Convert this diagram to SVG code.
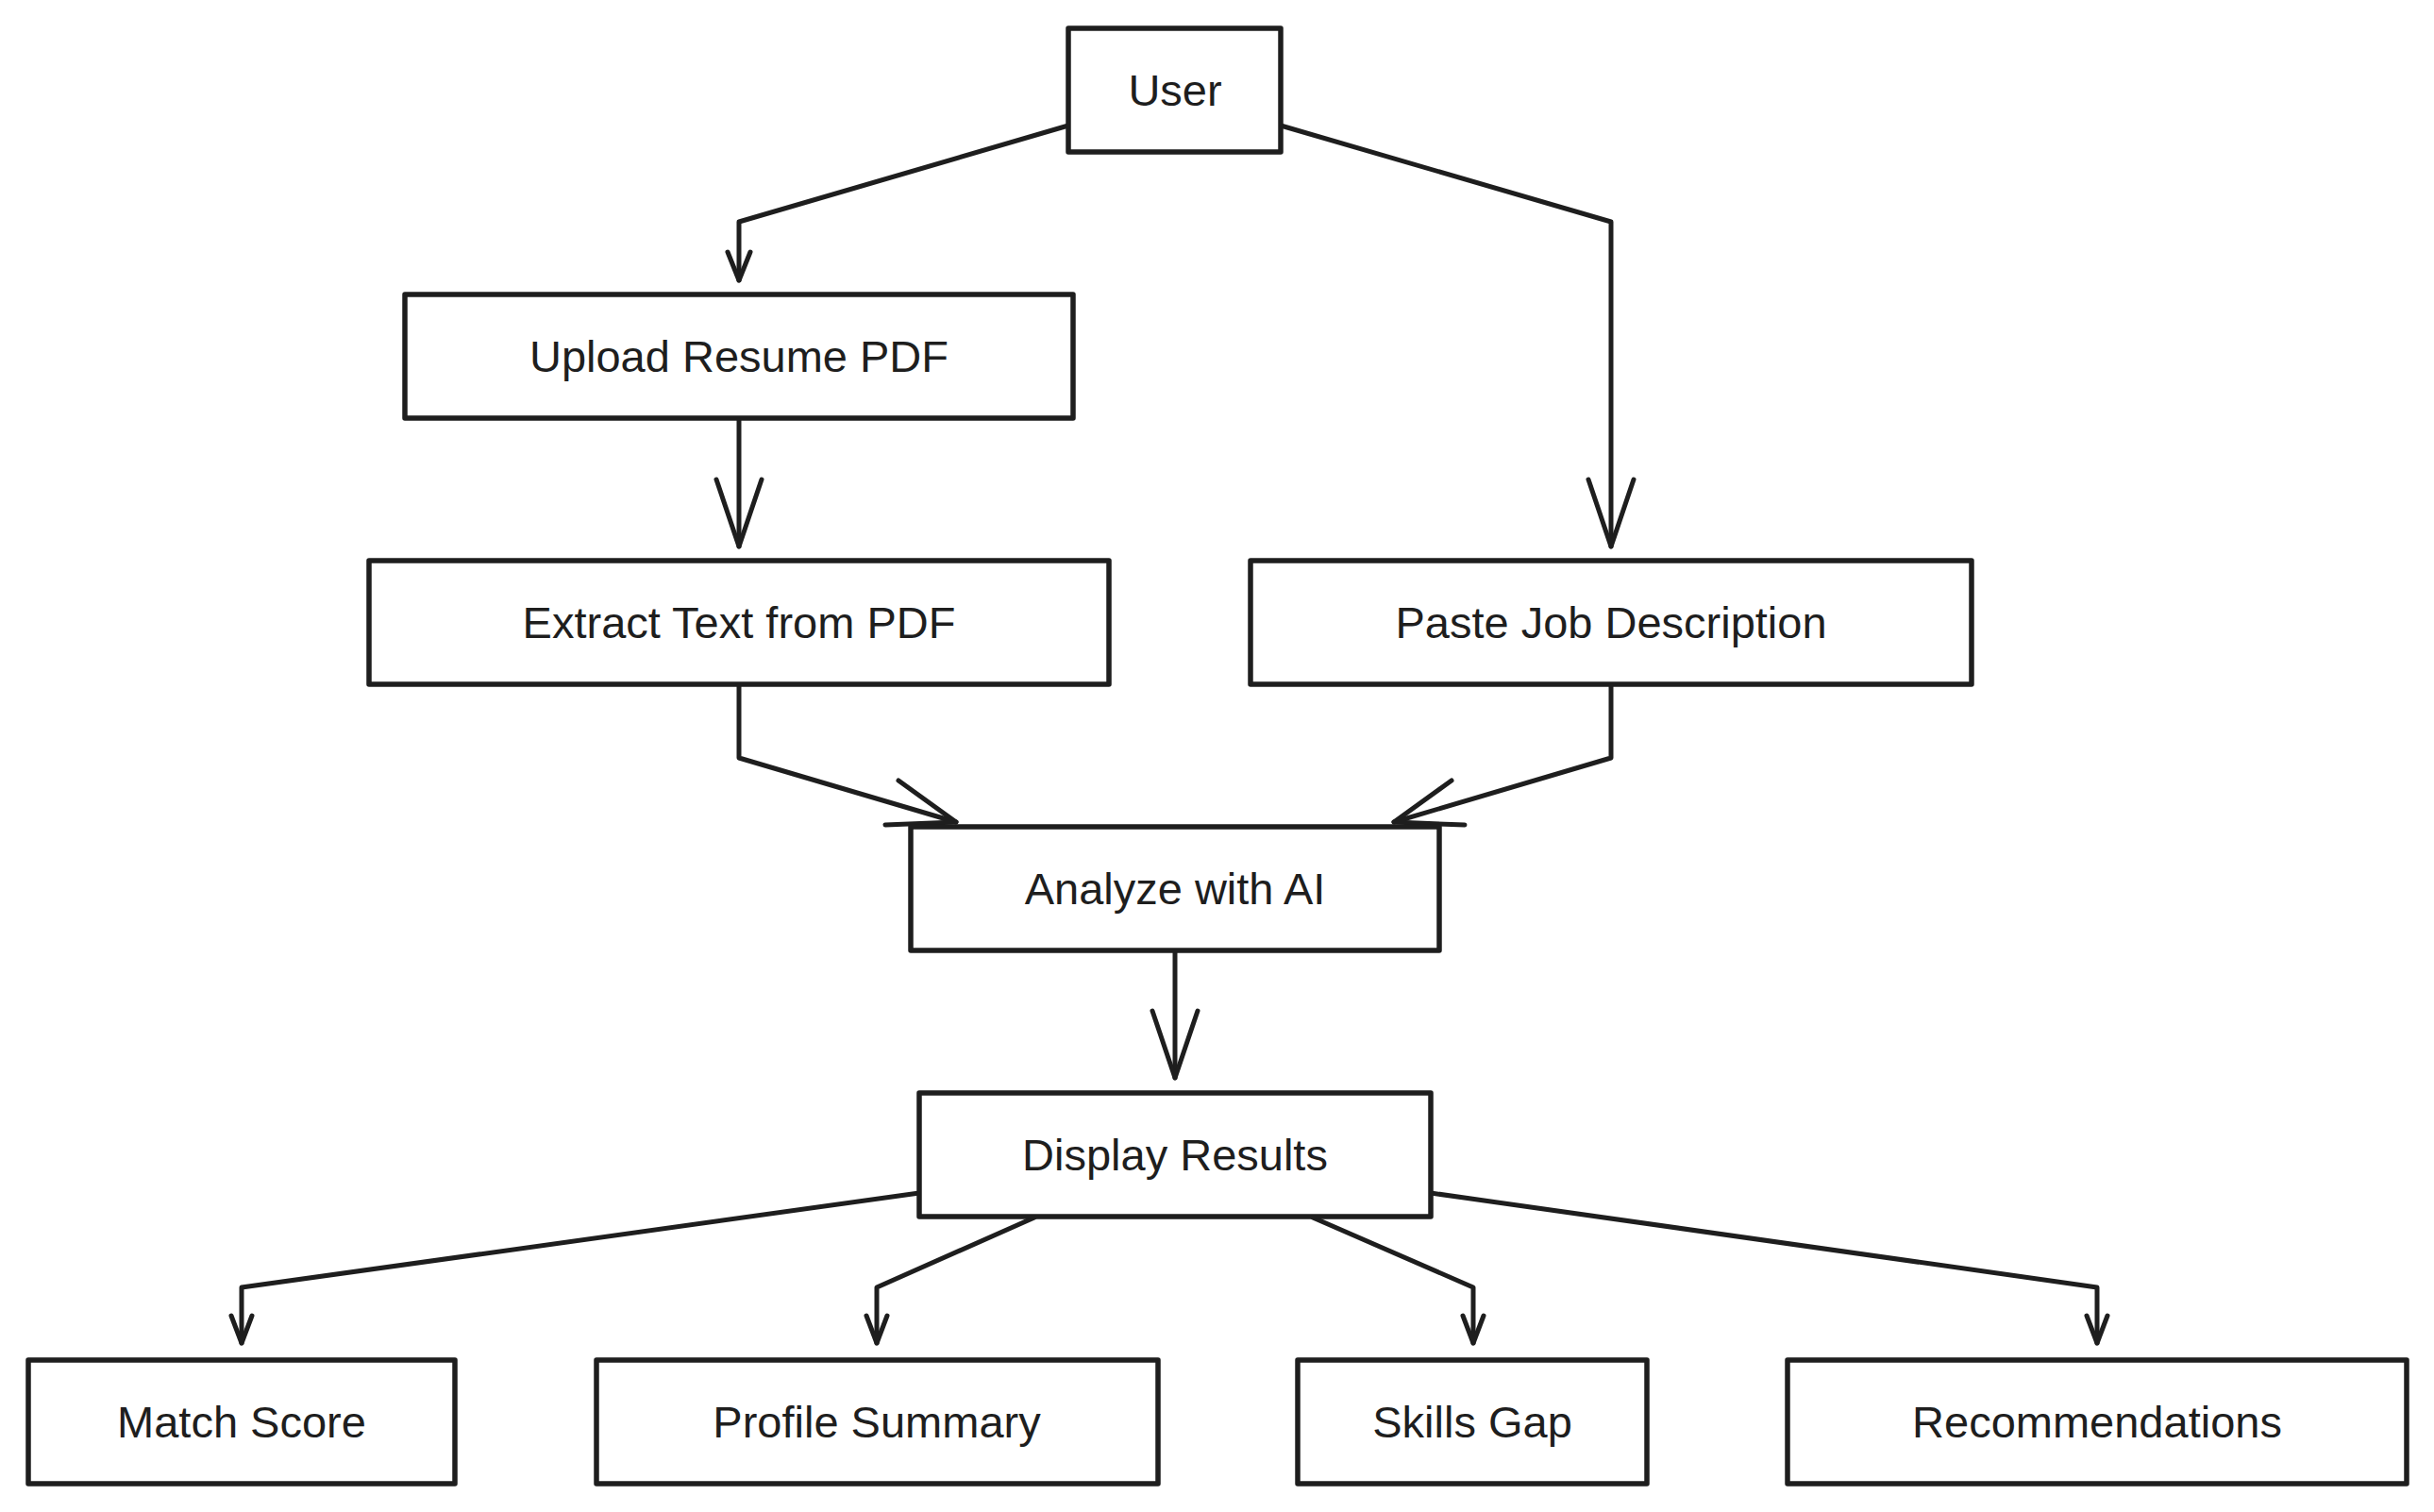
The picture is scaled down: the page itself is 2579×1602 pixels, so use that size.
<svg xmlns="http://www.w3.org/2000/svg" width="2579" height="1602" viewBox="0 0 2579 1602">
<style>
.box{fill:#ffffff;stroke:#1e1e1e;stroke-width:5.5;stroke-linejoin:round}
.lbl{font-family:"Liberation Sans",Arial,sans-serif;font-size:47px;fill:#1e1e1e;text-anchor:middle}
.edge{fill:none;stroke:#1e1e1e;stroke-width:5;stroke-linecap:round;stroke-linejoin:round}
</style>
<rect x="0" y="0" width="2579" height="1602" fill="#ffffff"/>
<g id="connectors">
<path class="edge" d="M1132,133 L783,235 L783,297"/>
<path class="edge" d="M771,267 L783,297 L795,267"/>
<path class="edge" d="M1357,133 L1707,235 L1707,579"/>
<path class="edge" d="M1683,508 L1707,579 L1731,508"/>
<path class="edge" d="M783,443 L783,579"/>
<path class="edge" d="M759,508 L783,579 L807,508"/>
<path class="edge" d="M783,725 L783,803 L1013,871"/>
<path class="edge" d="M952,827 L1013,871 L938,874"/>
<path class="edge" d="M1707,725 L1707,803 L1477,871"/>
<path class="edge" d="M1538,827 L1477,871 L1552,874"/>
<path class="edge" d="M1245,1007 L1245,1142"/>
<path class="edge" d="M1221,1071 L1245,1142 L1269,1071"/>
<path class="edge" d="M974,1264 L256,1364 L256,1423"/>
<path class="edge" d="M245,1394 L256,1423 L267,1394"/>
<path class="edge" d="M1096,1290 L929,1364 L929,1423"/>
<path class="edge" d="M918,1394 L929,1423 L940,1394"/>
<path class="edge" d="M1391,1290 L1561,1364 L1561,1423"/>
<path class="edge" d="M1550,1394 L1561,1423 L1572,1394"/>
<path class="edge" d="M1516,1264 L2222,1364 L2222,1423"/>
<path class="edge" d="M2211,1394 L2222,1423 L2233,1394"/>
</g>
<g id="user"><rect class="box" x="1132" y="30" width="225" height="131"/><text class="lbl" x="1245" y="112">User</text></g>
<g id="upload"><rect class="box" x="429" y="312" width="708" height="131"/><text class="lbl" x="783" y="394">Upload Resume PDF</text></g>
<g id="extract"><rect class="box" x="391" y="594" width="784" height="131"/><text class="lbl" x="783" y="676">Extract Text from PDF</text></g>
<g id="paste"><rect class="box" x="1325" y="594" width="764" height="131"/><text class="lbl" x="1707" y="676">Paste Job Description</text></g>
<g id="analyze"><rect class="box" x="965" y="876" width="560" height="131"/><text class="lbl" x="1245" y="958">Analyze with AI</text></g>
<g id="display"><rect class="box" x="974" y="1158" width="542" height="131"/><text class="lbl" x="1245" y="1240">Display Results</text></g>
<g id="match"><rect class="box" x="30" y="1441" width="452" height="131"/><text class="lbl" x="256" y="1523">Match Score</text></g>
<g id="profile"><rect class="box" x="632" y="1441" width="595" height="131"/><text class="lbl" x="929" y="1523">Profile Summary</text></g>
<g id="skills"><rect class="box" x="1375" y="1441" width="370" height="131"/><text class="lbl" x="1560" y="1523">Skills Gap</text></g>
<g id="recs"><rect class="box" x="1894" y="1441" width="656" height="131"/><text class="lbl" x="2222" y="1523">Recommendations</text></g>
</svg>
